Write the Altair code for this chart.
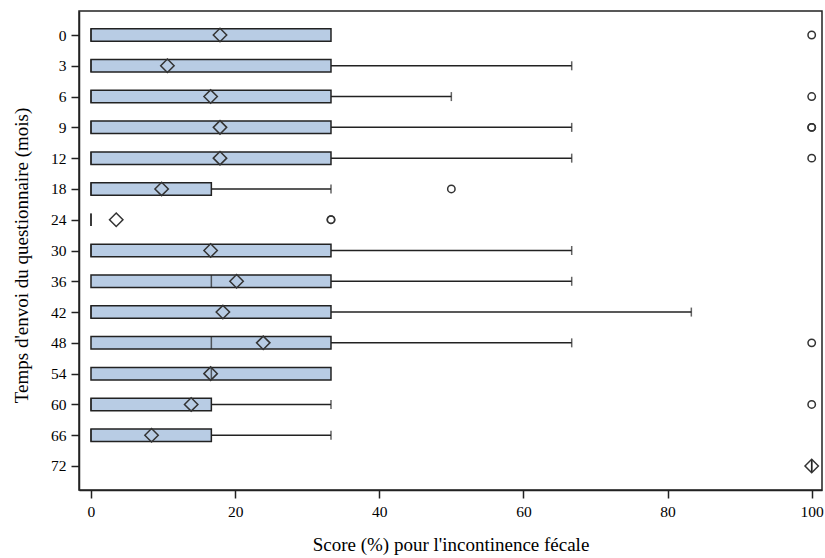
import altair as alt
import pandas as pd

cats = ["0", "3", "6", "9", "12", "18", "24", "30", "36", "42", "48", "54", "60", "66", "72"]
q1 = [0, 0, 0, 0, 0, 0, 0, 0, 0, 0, 0, 0, 0, 0, 100]
med = [0, 0, 0, 0, 0, 0, 0, 0, 16.7, 0, 16.7, 16.7, 0, 0, 100]
q3 = [33.3, 33.3, 33.3, 33.3, 33.3, 16.7, 0, 33.3, 33.3, 33.3, 33.3, 33.3, 16.7, 16.7, 100]
hi = [33.3, 66.7, 50, 66.7, 66.7, 33.3, 0, 66.7, 66.7, 83.3, 66.7, 33.3, 33.3, 33.3, 100]
mean = [17.9, 10.6, 16.6, 17.9, 17.9, 9.8, 3.5, 16.6, 20.2, 18.3, 23.9, 16.6, 13.9, 8.4, 100]

out_cat = ["0", "6", "9", "9", "12", "18", "24", "24", "48", "60"]
out_val = [100, 100, 100, 100, 100, 50, 33.3, 33.3, 100, 100]

box = pd.DataFrame({"cat": cats, "q1": q1, "med": med, "q3": q3, "hi": hi, "mean": mean})
outl = pd.DataFrame({"cat": out_cat, "val": out_val})

FONT = "Liberation Serif"
DARK = "#222222"

xscale = alt.Scale(domain=[-1.665, 101.43], nice=False, zero=False)
yscale = alt.Scale(type="point", padding=0.78)

y = alt.Y("cat:N", sort=cats, scale=yscale,
          axis=alt.Axis(title="Temps d'envoi du questionnaire (mois)", labelAngle=0,
                        titleX=-58, titleY=244, titleBaseline="middle", titleAngle=270))
xax = alt.Axis(title="Score (%) pour l'incontinence fécale", values=[0, 20, 40, 60, 80, 100],
               grid=False, titleY=60, titleBaseline="alphabetic")

base = alt.Chart(box)

whisk = base.mark_rule(color=DARK, strokeWidth=1.5).encode(
    x=alt.X("q3:Q", scale=xscale, axis=xax), x2="hi:Q", y=y)
caps = base.transform_filter("datum.hi > datum.q3").mark_tick(
    color=DARK, size=9, thickness=1.5).encode(x=alt.X("hi:Q", scale=xscale), y=y)
bars = base.mark_bar(size=12.5, fill="#b8cce4", stroke=DARK, strokeWidth=1.5).encode(
    x=alt.X("q1:Q", scale=xscale), x2="q3:Q", y=y)
meds = base.mark_tick(color=DARK, size=12.5, thickness=1.5).encode(
    x=alt.X("med:Q", scale=xscale), y=y)
means = base.mark_point(shape="diamond", filled=False, size=180, color="#333333",
                        strokeWidth=1.5, opacity=1).encode(
    x=alt.X("mean:Q", scale=xscale), y=y)
outs = alt.Chart(outl).mark_point(shape="circle", filled=False, size=55, color="#333333",
                                  strokeWidth=1.5, opacity=1).encode(
    x=alt.X("val:Q", scale=xscale), y=y)

chart = alt.layer(whisk, caps, bars, meds, means, outs).properties(
    width=743, height=479,
    autosize=alt.AutoSizeParams(type="none"),
    padding={"left": 79, "top": 11, "right": 3, "bottom": 68},
).configure_view(stroke=DARK, strokeWidth=1.5).configure_axis(
    labelFont=FONT, titleFont=FONT, labelFontSize=15.5, titleFontSize=19,
    labelColor="black", titleColor="black", titleFontWeight="normal",
    domainColor=DARK, domainWidth=1.5, tickColor=DARK, tickWidth=1.5, tickSize=8,
    grid=False,
).configure_axisY(labelPadding=5).configure_axisX(labelPadding=6)

chart.save("out.html", embed_options={"renderer": "svg", "actions": False})
